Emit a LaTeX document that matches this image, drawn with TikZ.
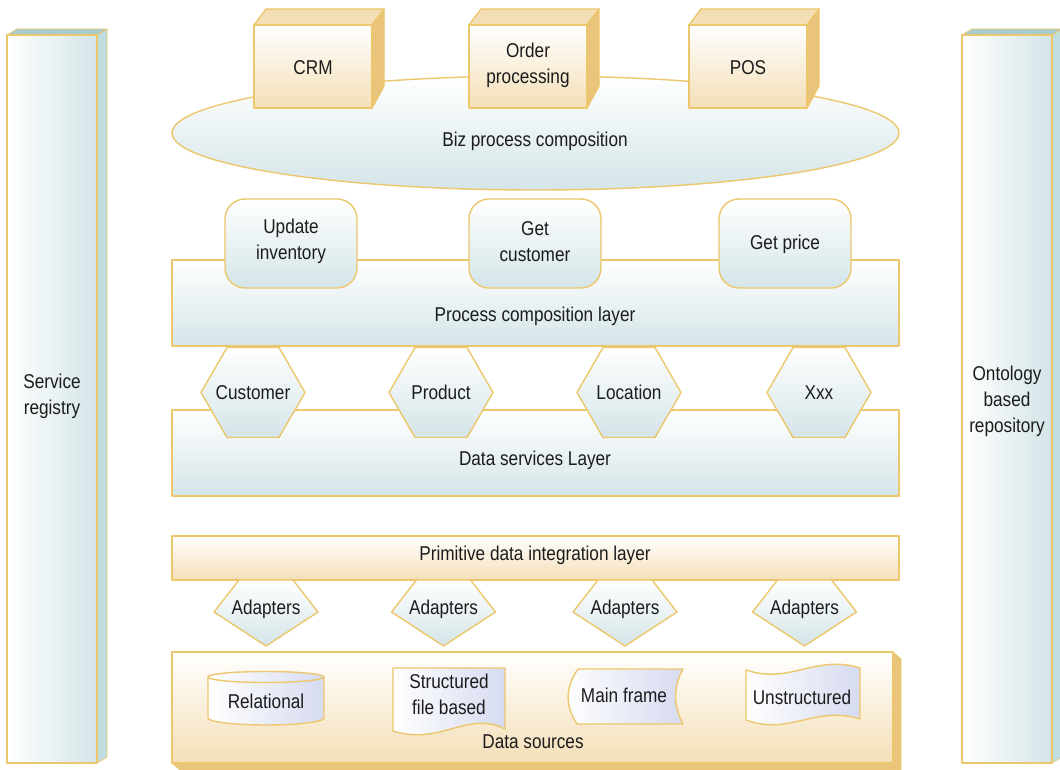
\documentclass[tikz,border=0pt]{standalone}
\usepackage{fontspec}
\setmainfont{Liberation Sans}[FakeStretch=0.86]

\definecolor{edge}{RGB}{236,199,108}
\definecolor{iceblue}{RGB}{212,229,232}
\definecolor{pillarside}{RGB}{192,221,223}
\definecolor{pillartop}{RGB}{168,204,206}
\definecolor{sand}{RGB}{244,223,183}
\definecolor{sandtop}{RGB}{244,222,182}
\definecolor{sandside}{RGB}{234,196,122}
\definecolor{lavender}{RGB}{214,219,240}
\definecolor{ink}{RGB}{28,28,28}

\begin{document}
\begin{tikzpicture}[x=1pt,y=-1pt,line join=round,
  every node/.style={text=ink,font=\fontsize{20}{26}\selectfont,align=center,inner sep=0pt},
  outline/.style={draw=edge,line width=1.4pt},
  thinline/.style={draw=edge,line width=0.7pt},
  bluev/.style={outline,top color=white,bottom color=iceblue},
  blueh/.style={outline,left color=white,right color=iceblue},
  sandv/.style={outline,top color=white,bottom color=sand},
  lav/.style={outline,left color=white,right color=lavender},
]
\clip (0,0) rectangle (1060,770);
\fill[white] (0,0) rectangle (1060,770);

% ---- side pillars ----
\path[thinline,fill=pillartop] (7,35) -- (17,29) -- (107,29) -- (97,35) -- cycle;
\path[thinline,fill=pillarside] (97,35) -- (107,29) -- (107,757) -- (97,763) -- cycle;
\path[blueh] (7,35) rectangle (97,763);
\node (registry) at (52,396) {Service\\registry};

\path[thinline,fill=pillartop] (962,35) -- (972,29) -- (1062,29) -- (1052,35) -- cycle;
\path[thinline,fill=pillarside] (1052,35) -- (1062,29) -- (1062,757) -- (1052,763) -- cycle;
\path[blueh] (962,35) rectangle (1052,763);
\node (ontology) at (1007,401) {Ontology\\based\\repository};

% ---- business process composition ----
\path[bluev] (535.5,133) ellipse [x radius=363.5, y radius=57];
\node (biz) at (535,141) {Biz process composition};

\foreach \xa/\xb in {254/372, 469/587, 689/807}{
  \path[outline,fill=sandtop] (\xa,25) -- (\xa+12,9) -- (\xb+12,9) -- (\xb,25) -- cycle;
  \path[outline,fill=sandside] (\xb,25) -- (\xb+12,9) -- (\xb+12,86) -- (\xb,108) -- cycle;
  \path[sandv] (\xa,25) rectangle (\xb,108);
}
\node (crm) at (313,68) {CRM};
\node (order) at (528,65) {Order\\processing};
\node (pos) at (748,68) {POS};

% ---- process composition layer ----
\path[bluev] (172,260) rectangle (899,346);
\node (proclayer) at (535,316) {Process composition layer};
\foreach \xa/\xb in {225/357, 469/601, 719/851}{
  \path[bluev,rounded corners=20pt] (\xa,199) rectangle (\xb,288);
}
\node (update) at (291,241) {Update\\inventory};
\node (getcust) at (535,242) {Get\\customer};
\node (getprice) at (785,244) {Get price};

% ---- data services layer ----
\path[bluev] (172,410) rectangle (899,496);
\node (datalayer) at (535,460) {Data services Layer};
\foreach \cx/\nm/\txt in {253/customer/Customer, 441/product/Product, 629/location/Location, 819/xxx/Xxx}{
  \path[bluev] (\cx-52,392.5) -- (\cx-26,347.5) -- (\cx+26,347.5) -- (\cx+52,392.5)
    -- (\cx+26,437.5) -- (\cx-26,437.5) -- cycle;
  \node (\nm) at (\cx,392.5) {\txt};
}

% ---- primitive data integration ----
\path[sandv] (172,536) rectangle (899,580);
\node (primitive) at (535,555) {Primitive data integration layer};
\foreach \cx/\nm in {266/ada, 443.5/adb, 625/adc, 804.5/add}{
  \path[bluev] (\cx-27,580) -- (\cx+27,580) -- (\cx+52,612) -- (\cx,646) -- (\cx-52,612) -- cycle;
  \node (\nm) at (\cx,609) {Adapters};
}

% ---- data sources ----
\path[thinline,fill=sandside] (172,763) -- (180,770) -- (901,770) -- (901,659) -- (893,652) -- (893,763) -- cycle;
\path[sandv] (172,652) rectangle (893,763);
\node (sources) at (533,742) {Data sources};

% relational store (cylinder)
\path[lav] (208,677) -- (208,718) arc[start angle=180,end angle=0,x radius=58,y radius=7] -- (324,677) -- cycle;
\path[lav] (266,677) ellipse[x radius=58,y radius=5.5];
\node (relational) at (266,701) {Relational};

% structured file (document)
\path[lav] (393,668) -- (505,668) -- (505,729)
  .. controls (468,710) and (440,746) .. (393,731) -- cycle;
\node (structured) at (449,694) {Structured\\file based};

% main frame
\path[lav] (578,669) -- (683,669) .. controls (673,688) and (673,705) .. (683,724)
  -- (577,724) .. controls (565,705) and (565,688) .. (578,669) -- cycle;
\node (mainframe) at (624,695) {Main frame};

% unstructured (tape)
\path[lav] (746,670) .. controls (790,685) and (815,654) .. (860,668)
  -- (860,719) .. controls (815,705) and (790,736) .. (746,720) -- cycle;
\node (unstructured) at (802,697) {Unstructured};
\end{tikzpicture}
\end{document}
